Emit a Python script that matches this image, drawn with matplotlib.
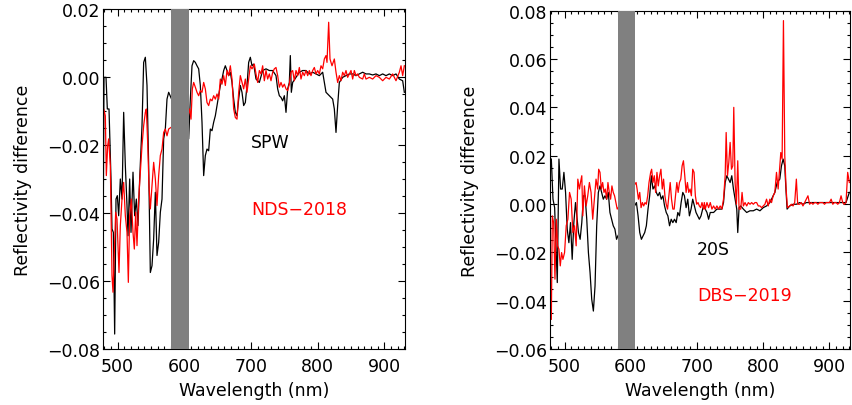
"""Reflectivity difference spectra: SPW vs NDS-2018 (left), 20S vs DBS-2019 (right)."""
import matplotlib
matplotlib.use("Agg")
import matplotlib.pyplot as plt
from matplotlib.ticker import MultipleLocator, FuncFormatter

RED = "#ff0000"
BAND = "#808080"

# left panel, black: SPW
spw_nm = [478, 479.5, 482.5, 484.5, 487, 490, 491.5, 493.5, 495.5, 497.5, 499.5, 501.5,
          504, 506.5, 509, 511.5, 514, 515.5, 518, 520, 523, 525.5, 528, 530.5, 533,
          536.5, 539, 541.5, 544, 546.5, 549, 551.5, 554, 556.5, 559, 561.5, 564, 566.5,
          569, 571.5, 574, 576.5, 606.5, 609, 611.5, 614, 616.5, 619, 621.5, 624, 626.5,
          629, 631.5, 634, 636.5, 639, 641.5, 644, 646.5, 649, 651.5, 654, 656.5, 659,
          661.5, 664, 666.5, 669, 671.5, 674, 676.5, 679, 681.5, 684, 686.5, 689, 691.5,
          694, 696.5, 699, 701.5, 704, 707.5, 712.5, 717.5, 722.5, 727.5, 732.5, 737.5,
          740, 742.5, 745, 747.5, 750, 752.5, 755, 757.5, 759, 760.5, 762.5, 767.5, 772.5,
          777.5, 782.5, 787.5, 792.5, 797.5, 802.5, 807.5, 812.5, 817.5, 822.5, 825, 827.5,
          830, 832.5, 837.5, 842.5, 847.5, 852.5, 857.5, 862.5, 867.5, 872.5, 877.5, 882.5,
          887.5, 892.5, 897.5, 902.5, 907.5, 912.5, 917.5, 922.5, 927.5, 930]
spw_val = [-0.055, -0.0001, -0.0001, -0.0094, -0.0094, -0.0300, -0.0447, -0.0457, -0.0756,
           -0.0359, -0.0349, -0.0408, -0.0300, -0.0359, -0.0104, -0.0261, -0.0378, -0.0467,
           -0.0300, -0.0457, -0.0280, -0.0408, -0.0359, -0.0437, -0.0300, -0.0143, 0.0043,
           0.0058, -0.0025, -0.0261, -0.0575, -0.0555, -0.0476, -0.0339, -0.0525, -0.0486,
           -0.0398, -0.0359, -0.0182, -0.0153, -0.0065, -0.0045, -0.0182, -0.0065, 0.0033,
           0.0048, 0.0043, 0.0033, 0.0024, -0.0025, -0.0133, -0.0290, -0.0231, -0.0212,
           -0.0217, -0.0153, -0.0158, -0.0133, -0.0114, -0.0084, -0.0055, -0.0025, -0.0006,
           0.0019, 0.0033, 0.0019, 0.0004, 0.0014, -0.0016, -0.0065, -0.0104, -0.0114,
           -0.0065, -0.0025, -0.0045, -0.0084, -0.0075, -0.0025, 0.0043, 0.0058, 0.0033,
           0.0038, -0.0006, -0.0016, 0.0019, 0.0024, 0.0019, 0.0019, 0.0004, -0.0035,
           -0.0055, -0.0060, -0.0070, -0.0055, -0.0104, -0.0035, -0.0016, 0.0063, -0.0045,
           -0.0016, -0.0001, 0.0014, 0.0019, 0.0019, 0.0009, 0.0014, 0.0009, 0.0004, 0.0014,
           -0.0045, -0.0055, -0.0065, -0.0094, -0.0163, -0.0084, -0.0016, -0.0001, 0.0004,
           0.0009, 0.0009, 0.0004, 0.0009, 0.0014, 0.0009, 0.0009, 0.0006, 0.0009, 0.0004,
           0.0009, 0.0004, 0.0009, 0.0004, 0.0009, -0.0006, -0.0011, -0.0045]

# left panel, red: NDS-2018
nds_nm = [478, 479, 481.5, 483, 485, 486.5, 489, 491.5, 493, 495, 497, 499, 502, 504,
          506.5, 509, 511.5, 514, 516, 518, 520.5, 523, 525, 527, 529, 531.5, 534, 536.5,
          539, 541.5, 543, 545, 547, 549, 551.5, 554, 556.5, 559, 561.5, 564, 566.5, 569,
          571.5, 574, 576.5, 605.5, 608, 610, 612, 614, 616.5, 619, 621.5, 624, 626.5, 629,
          631.5, 634, 636.5, 639, 641.5, 644, 646.5, 649, 651.5, 654, 656.5, 659, 661.5,
          664, 666.5, 669, 671.5, 674, 676.5, 679, 681.5, 684, 686.5, 689, 691.5, 694,
          696.5, 699, 701.5, 704, 705, 707.5, 710, 712.5, 715, 717.5, 720, 722.5, 725,
          727.5, 730, 732.5, 735, 737.5, 740, 742.5, 745, 747.5, 750, 752.5, 755, 757.5,
          760, 762.5, 765, 767.5, 770, 772.5, 775, 777.5, 780, 782.5, 785, 787.5, 790,
          792.5, 795, 797.5, 800, 802.5, 805, 807.5, 810, 812.5, 814, 816.5, 818.5, 821.5,
          825, 827.5, 830, 832.5, 835, 837.5, 840, 842.5, 845, 847.5, 850, 852.5, 855,
          857.5, 860, 862.5, 867.5, 870, 872.5, 877.5, 882.5, 887.5, 892.5, 897.5, 902.5,
          907.5, 912.5, 917.5, 922.5, 925, 927.5, 930]
nds_val = [-0.0359, -0.0094, -0.0114, -0.0290, -0.0202, -0.0182, -0.0261, -0.0584, -0.0633,
           -0.0516, -0.0398, -0.0418, -0.0575, -0.0437, -0.0359, -0.0310, -0.0408, -0.0457,
           -0.0604, -0.0408, -0.0359, -0.0457, -0.0506, -0.0398, -0.0496, -0.0359, -0.0280,
           -0.0202, -0.0143, -0.0104, -0.0094, -0.0192, -0.0320, -0.0388, -0.0320, -0.0251,
           -0.0300, -0.0378, -0.0290, -0.0231, -0.0212, -0.0163, -0.0153, -0.0173, -0.0153,
           -0.0114, -0.0094, -0.0124, -0.0035, -0.0016, -0.0030, -0.0045, -0.0055, -0.0040,
           -0.0045, -0.0016, -0.0035, -0.0075, -0.0084, -0.0065, -0.0070, -0.0055, -0.0065,
           -0.0050, -0.0065, -0.0006, -0.0021, 0.0004, -0.0025, 0.0019, 0.0004, 0.0033,
           -0.0006, -0.0094, -0.0119, -0.0124, -0.0045, 0.0004, -0.0016, -0.0035, -0.0006,
           -0.0045, -0.0006, 0.0033, 0.0024, 0.0033, 0.0038, 0.0009, -0.0016, 0.0019, 0.0009,
           0.0033, -0.0011, 0.0019, -0.0006, 0.0009, -0.0011, 0.0014, 0.0024, 0.0028, 0.0004,
           -0.0030, -0.0016, -0.0030, -0.0021, -0.0035, -0.0040, -0.0021, 0.0014, 0.0019,
           -0.0011, 0.0019, 0.0004, 0.0028, -0.0006, 0.0014, 0.0004, 0.0019, 0.0004, 0.0019,
           0.0004, 0.0019, 0.0028, 0.0009, 0.0019, 0.0009, 0.0033, 0.0024, 0.0053, 0.0063,
           0.0043, 0.0161, 0.0053, 0.0033, 0.0053, 0.0014, -0.0016, 0.0004, -0.0011, 0.0014,
           0.0004, 0.0019, -0.0001, 0.0009, 0.0019, -0.0006, 0.0019, 0.0004, 0.0009, -0.0001,
           -0.0006, 0.0009, -0.0006, -0.0001, -0.0006, 0.0004, -0.0001, -0.0011, -0.0001,
           -0.0006, 0.0009, -0.0011, 0.0014, 0.0033, 0.0004, 0.0033]

# right panel, black: 20S
s20_nm = [480, 482.5, 485, 489, 491.5, 494, 496.5, 499, 501.5, 504, 506.5, 509, 511.5,
          514, 516.5, 518.5, 521, 523.5, 526, 528.5, 531, 533.5, 536, 538.5, 541, 543.5,
          546, 548.5, 551, 553.5, 556, 558.5, 561, 563.5, 566, 568.5, 571, 573.5, 576,
          578.5, 580.5, 608.5, 611, 613.5, 616, 618.5, 621, 623.5, 626, 628.5, 631, 633.5,
          636, 638.5, 641, 643.5, 646, 648.5, 651, 653.5, 656, 658.5, 661, 663.5, 666,
          668.5, 671, 673.5, 676, 678.5, 681, 683.5, 686, 688.5, 691, 693.5, 696, 698.5,
          701, 703.5, 706, 708.5, 710, 715, 717.5, 720, 725, 730, 735, 737.5, 740, 742.5,
          745, 747.5, 750, 752.5, 755, 757.5, 760, 761.5, 763.5, 766, 770, 775, 780, 785,
          790, 795, 800, 805, 810, 815, 817.5, 821, 825, 827.5, 830, 832.5, 834, 836, 840,
          845, 850, 855, 860, 865, 870, 875, 880, 885, 890, 895, 900, 905, 910, 915, 920,
          925, 930]
s20_val = [0.0186, 0.0020, -0.0015, -0.0325, 0.0186, 0.0062, 0.0062, 0.0131, 0.0048,
           -0.0104, -0.0160, -0.0077, -0.0229, -0.0077, 0.0006, -0.0049, -0.0118, -0.0146,
           -0.0077, 0.0034, 0.0034, -0.0063, -0.0201, -0.0284, -0.0394, -0.0443, -0.0339,
           -0.0090, 0.0048, 0.0075, 0.0048, 0.0020, 0.0034, 0.0020, 0.0048, -0.0035,
           -0.0063, -0.0090, -0.0104, -0.0146, -0.0132, 0.0006, -0.0049, -0.0118, -0.0146,
           -0.0132, -0.0118, -0.0090, -0.0021, 0.0034, 0.0117, 0.0062, 0.0075, 0.0048,
           0.0034, 0.0048, 0.0020, 0.0034, -0.0008, -0.0035, -0.0049, -0.0090, -0.0063,
           -0.0077, -0.0063, -0.0077, -0.0035, -0.0049, 0.0006, 0.0048, 0.0034, -0.0015,
           0.0020, -0.0049, -0.0021, 0.0020, -0.0008, -0.0035, -0.0049, -0.0063, -0.0049,
           -0.0021, -0.0008, -0.0035, -0.0063, -0.0035, -0.0035, -0.0021, -0.0021, -0.0021,
           0.0006, 0.0089, 0.0117, 0.0103, 0.0089, 0.0117, 0.0062, 0.0020, -0.0021, -0.0118,
           -0.0015, -0.0008, -0.0021, -0.0035, -0.0028, -0.0028, -0.0021, -0.0028, -0.0015,
           -0.0008, 0.0006, 0.0034, 0.0048, 0.0089, 0.0103, 0.0158, 0.0186, 0.0158, 0.0075,
           -0.0021, -0.0008, -0.0001, -0.0001, 0.0006, -0.0001, 0.0006, 0.0006, 0.0006,
           0.0006, 0.0006, 0.0006, 0.0006, 0.0006, 0.0006, 0.0006, 0.0006, 0.0006, 0.0006,
           0.0048]

# right panel, red: DBS-2019
dbs_nm = [480, 481.5, 483.5, 485.5, 487.5, 489.5, 491.5, 493.5, 495.5, 497.5, 500, 502.5,
          505, 507.5, 510, 512.5, 515, 517.5, 520, 522.5, 524, 526, 527.5, 530, 532.5, 535,
          537.5, 540, 542.5, 545, 547.5, 550, 551.5, 553.5, 555.5, 557.5, 559.5, 561.5,
          563.5, 565.5, 567.5, 569.5, 571.5, 573.5, 575.5, 577.5, 579.5, 608, 609.5, 611.5,
          613.5, 615.5, 617.5, 619.5, 621.5, 623.5, 625.5, 627.5, 630, 631.5, 633.5, 635.5,
          637.5, 639.5, 641.5, 643.5, 645.5, 647.5, 649.5, 651.5, 653.5, 655.5, 657.5,
          659.5, 661.5, 663.5, 665.5, 667.5, 669.5, 671.5, 673.5, 675.5, 677.5, 679.5,
          681.5, 683.5, 685.5, 687.5, 689.5, 691.5, 693.5, 695.5, 697.5, 699.5, 701.5,
          703.5, 705.5, 707.5, 710, 711, 712.5, 715, 717.5, 720, 722.5, 725, 727.5, 730,
          732.5, 735, 737.5, 740, 742.5, 744, 746, 748, 750, 752, 754, 755.5, 757.5, 759.5,
          761.5, 763.5, 766, 768, 770, 772.5, 775, 777.5, 780, 782.5, 785, 787.5, 790,
          792.5, 795, 797.5, 800, 802.5, 805, 807.5, 810, 812.5, 815, 817.5, 820, 822.5,
          825, 826.5, 828.5, 830.5, 832.5, 834.5, 836.5, 840, 842.5, 845, 847.5, 850, 852,
          855, 857.5, 860, 862.5, 865, 867.5, 870, 872.5, 875, 877.5, 880, 882.5, 885,
          887.5, 890, 892.5, 895, 900, 902.5, 905, 907.5, 910, 912.5, 915, 917.5, 920,
          922.5, 925, 927.5, 930]
dbs_val = [-0.0477, -0.0049, -0.0077, -0.0311, -0.0063, -0.0173, -0.0187, -0.0256, -0.0201,
           -0.0229, -0.0201, -0.0090, -0.0063, 0.0048, 0.0020, -0.0118, -0.0090, -0.0173,
           0.0103, 0.0062, 0.0089, 0.0117, -0.0049, 0.0075, -0.0008, 0.0034, 0.0089, 0.0048,
           -0.0063, 0.0020, 0.0103, 0.0062, 0.0144, 0.0131, 0.0062, 0.0089, 0.0048, 0.0062,
           0.0020, 0.0089, 0.0048, 0.0020, 0.0075, 0.0048, 0.0034, 0.0006, -0.0021, 0.0089,
           0.0062, 0.0020, 0.0048, -0.0015, 0.0006, -0.0008, 0.0006, -0.0001, 0.0034, 0.0089,
           0.0131, 0.0144, 0.0089, 0.0117, 0.0048, 0.0131, 0.0075, 0.0117, 0.0144, 0.0062,
           0.0103, 0.0034, -0.0001, -0.0021, 0.0034, 0.0089, 0.0020, -0.0021, -0.0021,
           0.0034, 0.0089, 0.0048, 0.0089, 0.0103, 0.0158, 0.0179, 0.0117, 0.0048, 0.0089,
           0.0048, 0.0062, 0.0034, 0.0144, 0.0131, 0.0034, -0.0001, 0.0006, -0.0008, -0.0015,
           0.0006, -0.0021, 0.0006, -0.0021, 0.0006, -0.0015, 0.0006, -0.0021, -0.0008,
           -0.0021, -0.0008, -0.0021, -0.0008, -0.0021, 0.0020, 0.0117, 0.0296, 0.0117,
           0.0172, 0.0255, 0.0144, 0.0158, 0.0400, 0.0089, -0.0001, 0.0179, -0.0021, -0.0021,
           0.0048, -0.0008, 0.0006, -0.0008, 0.0006, -0.0001, 0.0006, -0.0001, 0.0006, 0.0006,
           -0.0008, -0.0008, -0.0015, -0.0008, -0.0001, 0.0020, -0.0008, 0.0020, 0.0006,
           0.0034, 0.0048, 0.0131, 0.0062, 0.0158, 0.0213, 0.0186, 0.0759, 0.0200, 0.0062,
           -0.0015, -0.0008, -0.0001, -0.0008, 0.0006, 0.0103, -0.0001, -0.0001, 0.0006,
           -0.0008, 0.0006, 0.0020, 0.0034, -0.0001, 0.0006, -0.0001, 0.0006, 0.0006, -0.0001,
           0.0006, 0.0006, 0.0006, -0.0001, 0.0006, 0.0006, 0.0020, -0.0001, 0.0006, 0.0006,
           -0.0001, 0.0006, 0.0034, 0.0006, -0.0001, 0.0006, 0.0131, 0.0089]

band = (580, 607)
xlim = (478, 931)
FS = 12.5


def fmt(v, _pos):
    s = f"{v:.2f}"
    if s == "-0.00":
        s = "0.00"
    return s.replace("-", "\u2212")


def style(ax, ylim):
    ax.set_xlim(*xlim)
    ax.set_ylim(*ylim)
    ax.xaxis.set_major_locator(MultipleLocator(100))
    ax.xaxis.set_minor_locator(MultipleLocator(10))
    ax.yaxis.set_major_locator(MultipleLocator(0.02))
    ax.yaxis.set_minor_locator(MultipleLocator(0.005))
    ax.yaxis.set_major_formatter(FuncFormatter(fmt))
    ax.tick_params(which="both", direction="in", top=True, right=True,
                   width=0.8, labelsize=FS)
    ax.tick_params(which="major", length=5)
    ax.tick_params(which="minor", length=2.5)
    ax.tick_params(axis="x", pad=6)
    ax.tick_params(axis="y", pad=2)
    for sp in ax.spines.values():
        sp.set_linewidth(0.8)
    ax.axvspan(*band, color=BAND, lw=0, zorder=3)
    ax.set_xlabel("Wavelength (nm)", fontsize=FS, labelpad=4)
    ax.set_ylabel("Reflectivity difference", fontsize=FS, labelpad=11)


fig = plt.figure(figsize=(8.52, 4.06), dpi=100)

ax1 = fig.add_axes([103 / 852, 56 / 406, 302 / 852, 340 / 406])
ax1.plot(spw_nm, spw_val, color="black", lw=0.9, zorder=2)
ax1.plot(nds_nm, nds_val, color=RED, lw=0.9, zorder=2)
style(ax1, (-0.08, 0.02))
ax1.text(700, -0.019, "SPW", color="black", fontsize=FS, va="center", ha="left")
ax1.text(700, -0.0388, "NDS\u22122018", color=RED, fontsize=FS, va="center", ha="left")

ax2 = fig.add_axes([550 / 852, 56 / 406, 300 / 852, 338.3 / 406])
ax2.plot(s20_nm, s20_val, color="black", lw=0.9, zorder=2)
ax2.plot(dbs_nm, dbs_val, color=RED, lw=0.9, zorder=2)
style(ax2, (-0.06, 0.08))
ax2.text(700, -0.0187, "20S", color="black", fontsize=FS, va="center", ha="left")
ax2.text(700, -0.0378, "DBS\u22122019", color=RED, fontsize=FS, va="center", ha="left")

fig.savefig("out.png", dpi=100)
